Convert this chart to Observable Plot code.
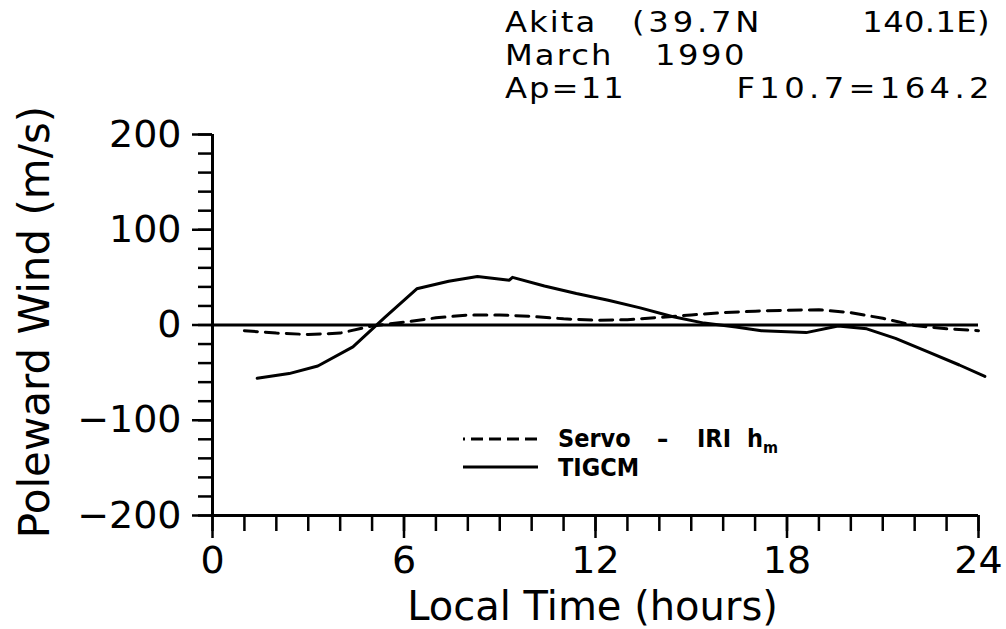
<!DOCTYPE html>
<html><head><meta charset="utf-8">
<script src="https://cdn.jsdelivr.net/npm/d3@7"></script>
<script src="https://cdn.jsdelivr.net/npm/@observablehq/plot@0.6"></script>
<style>
body{margin:0;background:#fff;}
#wrap{position:relative;width:1006px;height:629px;font-family:"DejaVu Sans",sans-serif;color:#000;}
.t{position:absolute;font-size:28px;line-height:33px;letter-spacing:1.8px;white-space:pre;transform:scaleX(1.15);transform-origin:left center;}
.t.r{transform-origin:right center;}
.lg{position:absolute;font-family:"DejaVu Sans Condensed","Liberation Sans Narrow","DejaVu Sans",sans-serif;font-weight:bold;font-size:25px;line-height:25px;white-space:pre;}
#plot svg{display:block;}
</style></head><body>
<div id="wrap">
  <div id="plot"></div>
  <div class="t" style="left:505px;top:6px;">Akita</div>
  <div class="t" style="left:632px;top:6px;letter-spacing:3.3px;">(39.7N</div>
  <div class="t r" style="right:16px;top:6px;letter-spacing:0.3px;">140.1E)</div>
  <div class="t" style="left:505px;top:39px;">March</div>
  <div class="t" style="left:655px;top:39px;letter-spacing:2.2px;">1990</div>
  <div class="t" style="left:505px;top:72px;">Ap=11</div>
  <div class="t r" style="right:12px;top:72px;letter-spacing:3.8px;">F10.7=164.2</div>
  <svg style="position:absolute;left:0;top:0;pointer-events:none" width="1006" height="629">
    <line x1="463" x2="538" y1="439" y2="439" stroke="#000" stroke-width="3" stroke-dasharray="2,6,12,6,12,6,12,6,12"/>
    <line x1="463" x2="538" y1="467" y2="467" stroke="#000" stroke-width="3"/>
  </svg>
  <div class="lg" style="left:558px;top:426px;">Servo</div>
  <div class="lg" style="left:657px;top:426px;">–</div>
  <div class="lg" style="left:697px;top:426px;">IRI</div>
  <div class="lg" style="left:747px;top:426px;">h<sub style="font-size:16px;">m</sub></div>
  <div class="lg" style="left:558px;top:455px;">TIGCM</div>
</div>
<script>
// Servo - IRI hm poleward wind (m/s) vs local time (hours)
const servoHours = [1, 2, 3, 4, 5, 6, 7, 8, 9, 10, 11, 12, 13, 14, 15, 16, 17, 18, 19, 20, 21, 22, 23, 24];
const servoWind  = [-6, -8.5, -10, -8.5, -1, 3, 7.5, 10.5, 10.5, 9, 6.5, 5, 5.5, 8, 10.5, 13, 14.5, 15.5, 16, 13, 7, -0.5, -4, -6];
// TIGCM poleward wind (m/s)
const tigcmHours = [1.4, 2.4, 3.3, 4.4, 5.4, 6.4, 7.4, 8.3, 9.3, 9.4, 10.4, 11.4, 12.4, 13.4, 14.4, 15.4, 16.4, 17.2, 18.6, 19.6, 20.5, 21.4, 22.4, 23.4, 24.2];
const tigcmWind  = [-56, -51, -43, -23, 8, 38, 46, 51, 47, 50, 41, 33, 26, 18, 9, 2, -2, -6, -8, -1, -4, -14, -28, -42, -54];
// ticks
const xMajorTicks = [0, 6, 12, 18, 24];
const xMinorTicks = [0, 1, 2, 3, 4, 5, 6, 7, 8, 9, 10, 11, 12, 13, 14, 15, 16, 17, 18, 19, 20, 21, 22, 23, 24];
const yMajorTicks = [-200, -100, 0, 100, 200];
const yMinorTicks = [-200, -180, -160, -140, -120, -100, -80, -60, -40, -20, 0, 20, 40, 60, 80, 100, 120, 140, 160, 180, 200];
const xTitle = "Local Time (hours)";
const yTitle = "Poleward Wind (m/s)";

const servo = servoHours.map((h, i) => ({h, v: servoWind[i]}));
const tigcm = tigcmHours.map((h, i) => ({h, v: tigcmWind[i]}));

const plot = Plot.plot({
  width: 1006, height: 629,
  marginLeft: 212, marginRight: 28, marginTop: 134, marginBottom: 114,
  x: {domain: [0, 24]},
  y: {domain: [-200, 200]},
  style: {fontFamily: "DejaVu Sans, sans-serif", fontSize: "38px", color: "#000", background: "#fff", overflow: "visible"},
  marks: [
    Plot.axisX(xMinorTicks, {tickSize: 16, tickFormat: () => "", label: null, strokeWidth: 2.5}),
    Plot.axisX(xMajorTicks, {tickSize: 23, tickPadding: 8, label: null, strokeWidth: 2.5, fontSize: 38}),
    Plot.axisY(yMinorTicks, {tickSize: 14, tickFormat: () => "", label: null, strokeWidth: 2.5}),
    Plot.axisY(yMajorTicks, {tickSize: 20, tickPadding: 11, label: null, strokeWidth: 2.5, fontSize: 38}),
    Plot.ruleX([0], {strokeWidth: 3}),
    Plot.ruleY([-200], {strokeWidth: 3}),
    Plot.ruleY([0], {strokeWidth: 3}),
    Plot.line(servo, {x: "h", y: "v", stroke: "#000", strokeWidth: 3, strokeDasharray: "13,8"}),
    Plot.line(tigcm, {x: "h", y: "v", stroke: "#000", strokeWidth: 3}),
    Plot.text([xTitle], {frameAnchor: "bottom", dx: -3, dy: 92, fontSize: 40, letterSpacing: 0.7, lineAnchor: "middle", textAnchor: "middle"}),
    Plot.text([yTitle], {frameAnchor: "left", dx: -177, dy: -3, rotate: -90, fontSize: 42, letterSpacing: 1.5, lineAnchor: "middle", textAnchor: "middle"})
  ]
});
document.getElementById("plot").appendChild(plot);
</script>
</body></html>
